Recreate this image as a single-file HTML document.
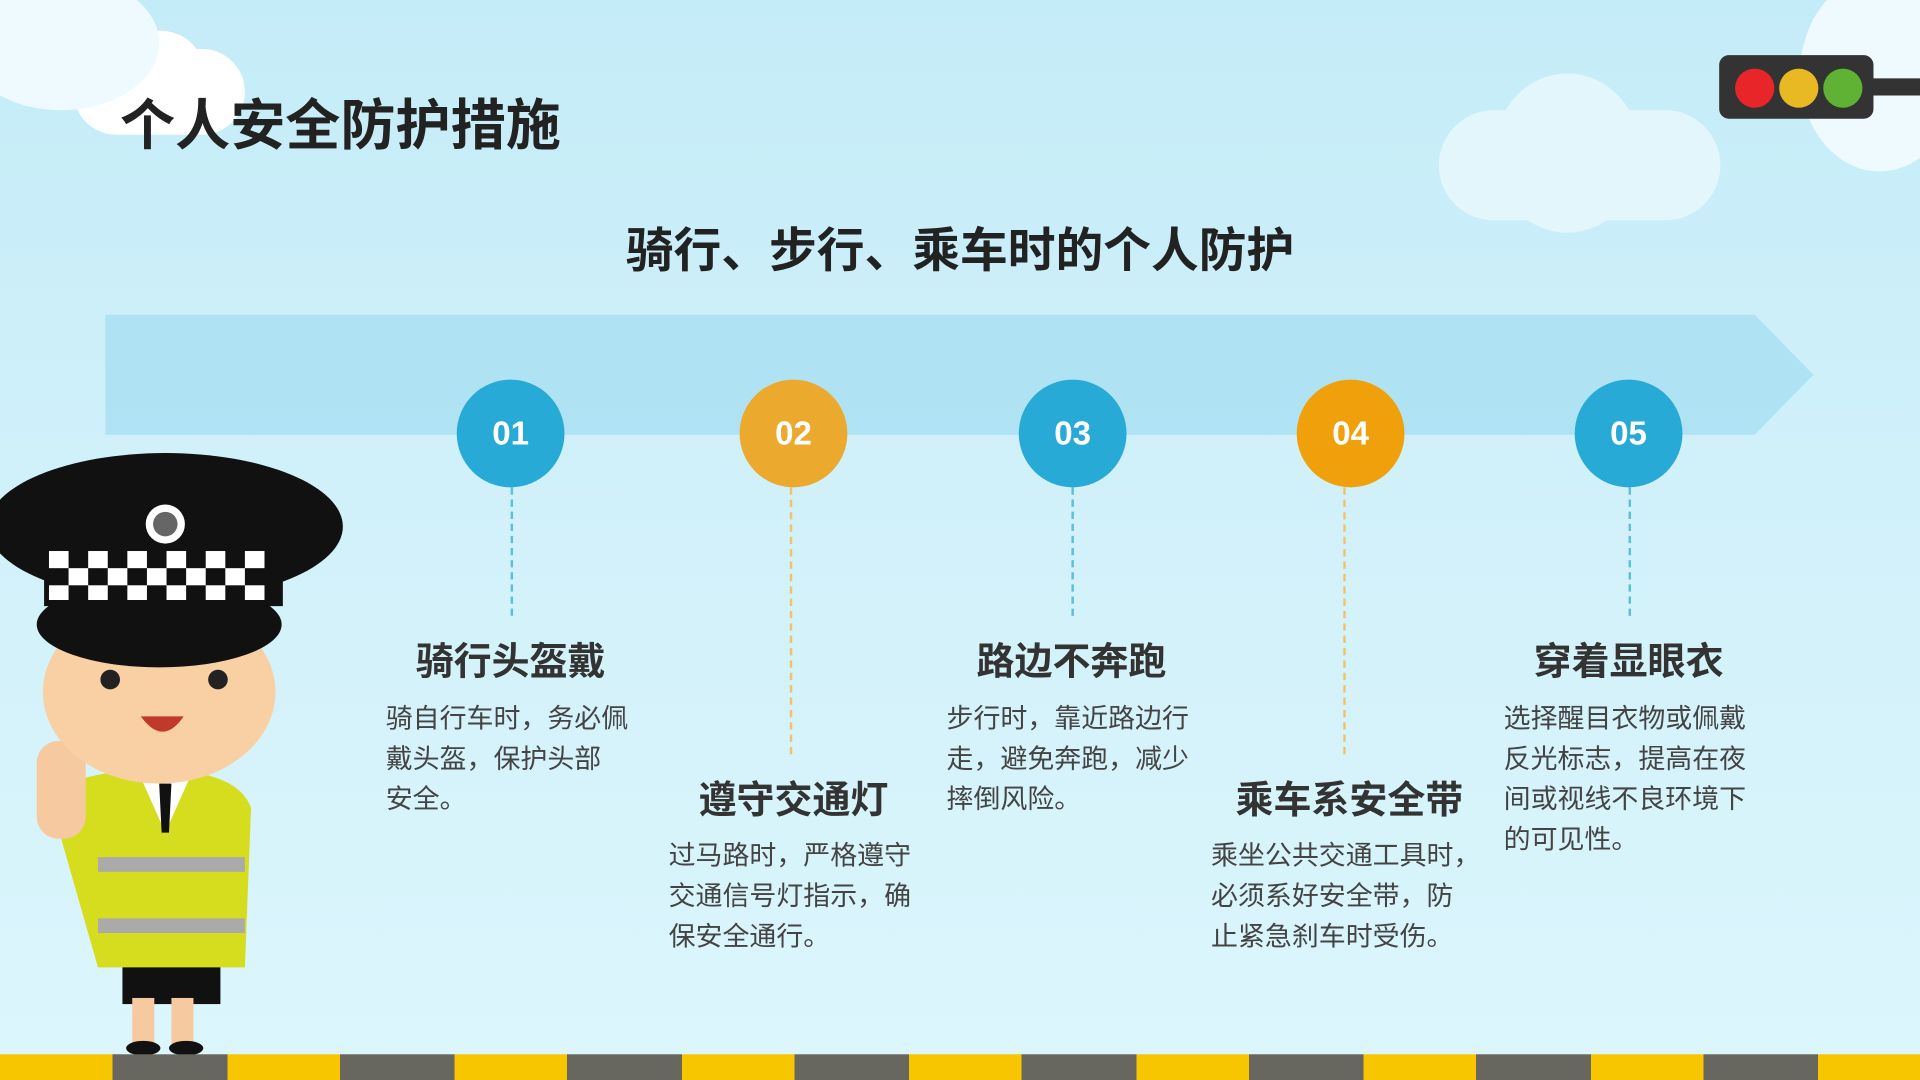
<!DOCTYPE html>
<html><head><meta charset="utf-8"><style>
html,body{margin:0;padding:0;width:1920px;height:1080px;overflow:hidden}
#s{position:absolute;left:0;top:0;width:1568px;height:882px;transform:scale(1.22449);transform-origin:0 0;background:linear-gradient(180deg,#c4ecf8 0%,#d2f1fa 50%,#dcf6fc 100%);overflow:hidden;font-family:"Liberation Sans","Noto Sans CJK SC",sans-serif}
.a{position:absolute}
.c{position:absolute;width:88px;height:88px;border-radius:50%;color:#fff;font-size:27px;font-weight:bold;text-align:center;line-height:88px}
.h{position:absolute;font-size:31px;font-weight:bold;color:#333;text-align:center;width:260px}
.t{position:absolute;font-size:22px;color:#444;line-height:33px;width:240px;white-space:nowrap}
.d{position:absolute;border-left:2px dashed}
</style></head><body><div id="s">
<div class="a" style="left:60px;top:40px;width:140px;height:70px;background:#fff;border-radius:40px"></div>
<div class="a" style="left:95px;top:25px;width:70px;height:60px;background:#fff;border-radius:50%"></div>
<div class="a" style="left:-30px;top:-20px;width:160px;height:110px;background:#eefaff;border-radius:50%"></div>
<div class="a" style="left:1175px;top:90px;width:230px;height:90px;background:#e3f6fc;border-radius:50px"></div>
<div class="a" style="left:1220px;top:60px;width:120px;height:130px;background:#e3f6fc;border-radius:50%"></div>
<div class="a" style="left:1470px;top:-20px;width:130px;height:160px;background:#eefaff;border-radius:50%"></div>
<div class="a" style="left:1525px;top:64px;width:45px;height:14px;background:#333"></div>
<div class="a" style="left:1404px;top:45px;width:126px;height:52px;background:#333;border-radius:8px"></div>
<div class="a" style="left:1417px;top:56px;width:32px;height:32px;background:#e8262a;border-radius:50%"></div>
<div class="a" style="left:1453px;top:56px;width:32px;height:32px;background:#e8b923;border-radius:50%"></div>
<div class="a" style="left:1489px;top:56px;width:32px;height:32px;background:#5fb233;border-radius:50%"></div>
<div class="a" style="left:98px;top:66px;font-size:45px;font-weight:bold;color:#222">个人安全防护措施</div>
<div class="a" style="left:0;width:1568px;top:174px;text-align:center;font-size:39px;font-weight:bold;color:#222">骑行、步行、乘车时的个人防护</div>
<svg class="a" style="left:0;top:0" width="1568" height="882"><polygon points="86,257 1433,257 1481,306 1433,355 86,355" fill="#a9e1f3" opacity="0.85"/></svg>
<div class="d" style="left:417px;top:398px;height:105px;border-color:#5bc0de"></div>
<div class="d" style="left:645px;top:398px;height:218px;border-color:#f0c36a"></div>
<div class="d" style="left:875px;top:398px;height:105px;border-color:#5bc0de"></div>
<div class="d" style="left:1097px;top:398px;height:218px;border-color:#f0c36a"></div>
<div class="d" style="left:1330px;top:398px;height:105px;border-color:#5bc0de"></div>
<div class="c" style="left:373px;top:310px;background:#27aad6">01</div>
<div class="c" style="left:604px;top:310px;background:#eba92e">02</div>
<div class="c" style="left:832px;top:310px;background:#27aad6">03</div>
<div class="c" style="left:1059px;top:310px;background:#f0a00a">04</div>
<div class="c" style="left:1286px;top:310px;background:#27aad6">05</div>
<div class="h" style="left:287px;top:515px">骑行头盔戴</div>
<div class="t" style="left:315px;top:570px">骑自行车时，务必佩<br>戴头盔，保护头部<br>安全。</div>
<div class="h" style="left:518px;top:628px">遵守交通灯</div>
<div class="t" style="left:546px;top:682px">过马路时，严格遵守<br>交通信号灯指示，确<br>保安全通行。</div>
<div class="h" style="left:745px;top:515px">路边不奔跑</div>
<div class="t" style="left:773px;top:570px">步行时，靠近路边行<br>走，避免奔跑，减少<br>摔倒风险。</div>
<div class="h" style="left:972px;top:628px">乘车系安全带</div>
<div class="t" style="left:989px;top:682px">乘坐公共交通工具时，<br>必须系好安全带，防<br>止紧急刹车时受伤。</div>
<div class="h" style="left:1200px;top:515px">穿着显眼衣</div>
<div class="t" style="left:1228px;top:570px">选择醒目衣物或佩戴<br>反光标志，提高在夜<br>间或视线不良环境下<br>的可见性。</div>
<svg class="a" style="left:0;top:360px" width="290" height="505">
<rect x="100" y="420" width="80" height="40" fill="#111"/>
<rect x="108" y="455" width="18" height="40" fill="#f7c9a0"/><rect x="140" y="455" width="18" height="40" fill="#f7c9a0"/>
<ellipse cx="117" cy="496" rx="14" ry="6" fill="#111"/><ellipse cx="152" cy="496" rx="14" ry="6" fill="#111"/>
<path d="M40,290 Q60,270 130,268 Q195,270 205,300 L200,430 L80,430 Z" fill="#d6dc1e"/>
<rect x="80" y="340" width="120" height="12" fill="#aaa"/><rect x="80" y="390" width="120" height="12" fill="#aaa"/>
<path d="M115,275 L135,320 L155,275 Z" fill="#fff"/><path d="M130,280 L140,280 L138,320 L132,320 Z" fill="#111"/>
<rect x="30" y="245" width="40" height="80" rx="18" fill="#f7c9a0"/>
<ellipse cx="130" cy="205" rx="95" ry="75" fill="#f9cfa4"/>
<circle cx="90" cy="195" r="8" fill="#222"/><circle cx="178" cy="195" r="8" fill="#222"/>
<path d="M115,225 Q133,250 150,225 Z" fill="#c0392b"/>
<ellipse cx="130" cy="150" rx="100" ry="35" fill="#111"/>
<ellipse cx="135" cy="70" rx="145" ry="60" fill="#111"/>
<rect x="36" y="85" width="195" height="50" fill="#111"/>
<g fill="#fff"><rect x="40" y="90" width="16" height="14"/><rect x="72" y="90" width="16" height="14"/><rect x="104" y="90" width="16" height="14"/><rect x="136" y="90" width="16" height="14"/><rect x="168" y="90" width="16" height="14"/><rect x="200" y="90" width="16" height="14"/><rect x="56" y="104" width="16" height="14"/><rect x="88" y="104" width="16" height="14"/><rect x="120" y="104" width="16" height="14"/><rect x="152" y="104" width="16" height="14"/><rect x="184" y="104" width="16" height="14"/><rect x="40" y="118" width="16" height="12"/><rect x="72" y="118" width="16" height="12"/><rect x="104" y="118" width="16" height="12"/><rect x="136" y="118" width="16" height="12"/><rect x="168" y="118" width="16" height="12"/><rect x="200" y="118" width="16" height="12"/></g>
<circle cx="135" cy="68" r="16" fill="#fff"/><circle cx="135" cy="68" r="10" fill="#666"/>
</svg>
<div class="a" style="left:0;top:861px;width:1568px;height:21px;background:repeating-linear-gradient(90deg,#f8c600 0 92px,#67665f 92px 185.6px)"></div>
</div></body></html>
